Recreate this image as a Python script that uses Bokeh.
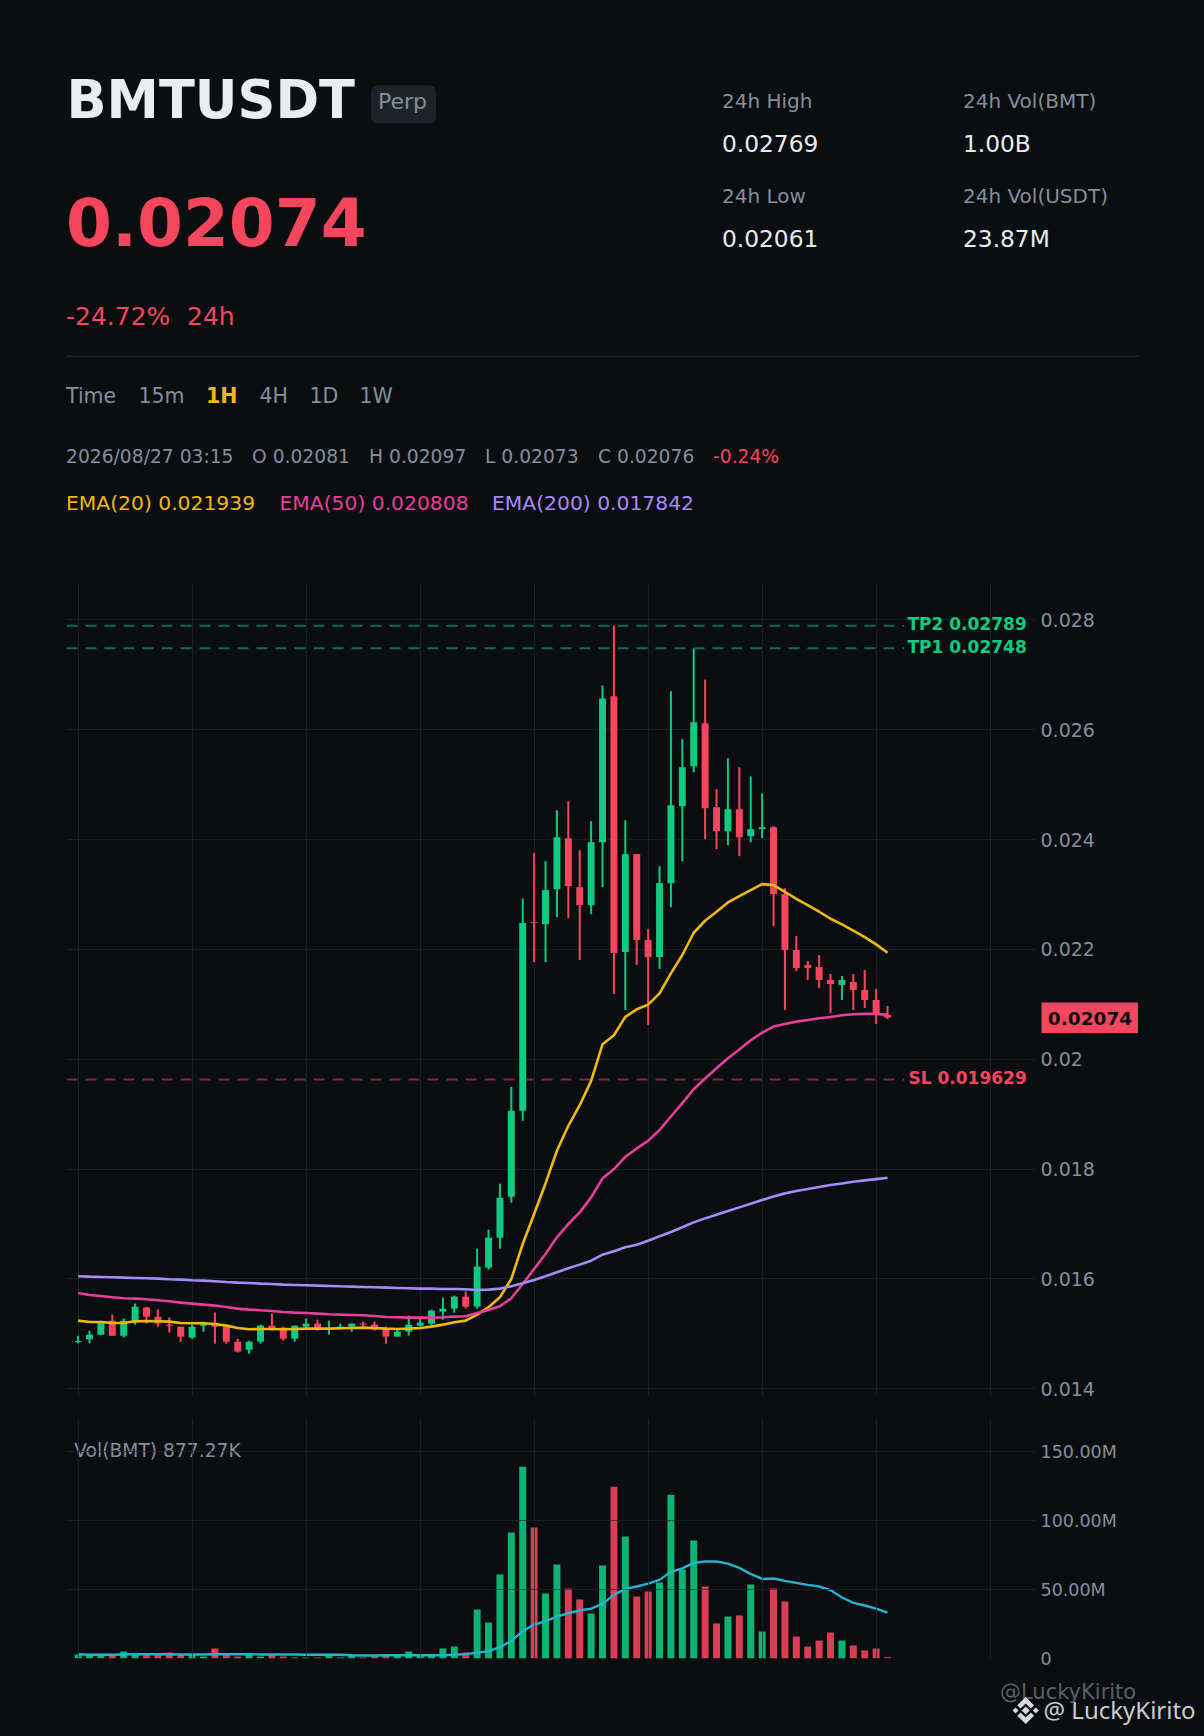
from bokeh.plotting import figure
from bokeh.layouts import column
from bokeh.models import FixedTicker, Range1d, LinearAxis, Grid
from bokeh.core.properties import value
from bokeh.embed import file_html
from bokeh.resources import INLINE

BG = "#0B0E11"
GRID = "#1A1E27"
MUTED = "#848E9C"
LIGHT = "#EAECEF"
UP = "#0ECB81"
DOWN = "#F6465D"
GOLD = "#F0B90B"
PINK = "#E83E9C"
VIOLET = "#A78BFA"
CYAN = "#22B4D0"

# ---- chart values ----
opens = [.014853,.014901,.014986,.015241,.014968,.015205,.015478,.015314,.015168,.015132,.014932,.015150,
         .015168,.015132,.014859,.014713,.014859,.015150,.015114,.014913,.015132,.015187,.015090,.015096,
         .015132,.015187,.015168,.015096,.014950,.015041,.015150,.015187,.015405,.015460,.015678,.015496,
         .016206,.016751,.017497,.019060,.022497,.022461,.023097,.024024,.023133,.022806,.023952,.026606,
         .021952,.023733,.022170,.021861,.023206,.024606,.025333,.026115,.024588,.024152,.024551,.024061,
         .024188,.024224,.023006,.021988,.021715,.021679,.021443,.021352,.021406,.021261,.021079,.02081]
highs = [.014968,.015059,.015241,.015350,.015278,.015551,.015496,.015442,.015296,.015132,.015168,.015223,
         .015387,.015150,.014913,.014877,.015168,.015369,.015132,.015150,.015278,.015259,.015241,.015187,
         .015187,.015223,.015223,.015132,.015096,.015332,.015278,.015442,.015660,.015696,.015775,.016552,
         .016897,.017733,.019497,.022927,.023752,.023606,.024533,.024697,.023806,.024333,.026806,.027897,
         .024351,.023733,.022370,.023515,.026697,.025824,.027472,.026915,.024915,.025479,.025315,.025151,
         .024842,.024242,.023115,.022243,.021788,.021897,.021552,.021515,.021552,.021624,.021279,.02097]
lows = [.014828,.014828,.014986,.014968,.014932,.015168,.015187,.015132,.015023,.014859,.014913,.015041,
        .014822,.014822,.014659,.014640,.014822,.015060,.014877,.014859,.015096,.015059,.014986,.015077,
        .015041,.015132,.015059,.014822,.014950,.014968,.015132,.015150,.015259,.015387,.015460,.015460,
        .016170,.016551,.017388,.018879,.021770,.021770,.022588,.022570,.021806,.022643,.023133,.021188,
        .020897,.021715,.020625,.021643,.022770,.023606,.025224,.024006,.023824,.023897,.023697,.023952,
        .024024,.022424,.020897,.021606,.021443,.021297,.020843,.021079,.020897,.020934,.020643,.02073]
closes = [.014871,.014986,.015229,.014968,.015241,.015496,.015314,.015187,.015150,.014950,.015132,.015187,
          .015132,.014859,.014677,.014859,.015150,.015077,.014913,.015150,.015187,.015096,.015096,.015132,
          .015187,.015168,.015077,.014950,.015041,.015168,.015205,.015423,.015460,.015678,.015496,.016225,
          .016751,.017479,.019060,.022479,.022479,.023079,.024042,.023152,.022806,.023952,.026569,.021934,
          .023733,.022170,.021861,.023206,.024624,.025315,.026133,.024570,.024152,.024551,.024042,.024188,
          .024224,.023006,.021988,.021661,.021661,.021443,.021370,.021443,.021261,.021079,.020824,.02076]
ema20 = [.015241,.015217,.015217,.015199,.015199,.015229,.015235,.015229,.015223,.015199,.015193,.015193,
         .015181,.015150,.015108,.015083,.015090,.015090,.015083,.015090,.015096,.015096,.015096,.015102,
         .015108,.015114,.015108,.015096,.015090,.015096,.015108,.015132,.015168,.015211,.015241,.015350,
         .015485,.015667,.016000,.016636,.017182,.017739,.018333,.018788,.019163,.019606,.020272,.020436,
         .020770,.020909,.020994,.021200,.021564,.021897,.022303,.022521,.022685,.022855,.022970,.023079,
         .023188,.023170,.023049,.022921,.022806,.022685,.022558,.022455,.022340,.022224,.022091,.021939]
ema50 = [.015745,.015709,.015690,.015666,.015648,.015642,.015630,.015612,.015593,.015569,.015551,.015533,
         .015514,.015490,.015460,.015442,.015429,.015417,.015399,.015387,.015381,.015369,.015357,.015350,
         .015344,.015338,.015326,.015308,.015302,.015296,.015296,.015296,.015302,.015314,.015320,.015382,
         .015436,.015503,.015649,.015909,.016182,.016455,.016758,.017000,.017212,.017485,.017830,.018000,
         .018224,.018376,.018515,.018709,.018957,.019200,.019454,.019648,.019836,.020018,.020176,.020345,
         .020485,.020594,.020643,.020685,.020715,.020746,.020770,.020800,.020818,.020825,.020825,.020808]
ema200 = [.016049,.016042,.016036,.016030,.016024,.016018,.016012,.016006,.015994,.015988,.015976,.015970,
          .015958,.015945,.015933,.015927,.015915,.015909,.015897,.015891,.015885,.015879,.015873,.015866,
          .015860,.015854,.015848,.015842,.015836,.015830,.015824,.015824,.015818,.015818,.015812,.015800,
          .015806,.015824,.015867,.015921,.015982,.016048,.016121,.016194,.016261,.016333,.016442,.016503,
          .016576,.016624,.016697,.016776,.016855,.016940,.017030,.017103,.017170,.017236,.017303,.017370,
          .017436,.017503,.017558,.017600,.017636,.017673,.017709,.017739,.017770,.017794,.017818,.017842]
volumes = [2.9,2.6,2.6,1.9,5.1,3.6,2.6,2.6,4.3,3.1,3.1,1.4,7.2,2.6,1.4,2.6,1.4,2.6,1.4,.7,.7,.7,2.6,.7,
           2.6,.7,1.9,1.9,2.6,5.1,1.9,2.6,7.2,8.7,4.3,35.5,26.1,60.9,91.3,139.1,94.9,47.1,68.1,50.7,42.7,
           32.6,67.4,124.6,88.4,44.9,48.5,55.1,118.8,64.5,85.5,52.2,25.4,30.4,31.2,53.6,19.6,50.7,41.3,
           15.9,8.7,13.0,18.8,13.0,9.4,5.8,7.2,.88]
vol_ma = [3.1,2.7,2.7,2.7,2.9,3.1,3.1,3.1,3.1,2.9,2.9,2.9,3.1,3.1,3.1,3.1,2.9,2.9,2.9,2.9,2.7,2.7,2.7,2.7,
          2.4,2.2,2.2,2.4,2.4,2.4,2.4,2.4,2.4,2.7,3.2,4.3,5.3,8.2,12.8,19.8,24.6,27.0,30.4,32.8,34.8,36.2,
          39.6,46.1,50.5,52.2,54.3,57.0,62.8,65.4,69.3,70.3,70.3,68.8,65.7,61.3,57.7,58.0,56.3,54.8,53.4,
          52.2,49.6,44.2,40.3,38.4,36.2,33.3]
price_ticks = [.014,.016,.018,.02,.022,.024,.026,.028]
price_tick_labels = ["0.014","0.016","0.018","0.02","0.022","0.024","0.026","0.028"]
vol_ticks = [0,50,100,150]
vol_tick_labels = ["0","50.00M","100.00M","150.00M"]
time_ticks = [0,10,20,30,40,50,60,70,80]
tp2, tp1, sl, last_price = .02789, .02748, .019629, .02074

FONT = "DejaVu Sans"
W = 1204
BASE = 0.37   # Bokeh's alphabetic text sits this many em below the given y

def put(p, x, y, txt, size, color, bold=False, align="left", alpha=1.0, font=FONT, baseline="alphabetic"):
    p.text(x=[x], y=[y], text=[txt], text_font=value(font), text_font_size=value(f"{size}px"),
           text_color=color, text_alpha=alpha, text_align=align, text_baseline=baseline,
           text_font_style="bold" if bold else "normal")

def blank(h, w=W, bg=BG, **kw):
    f = figure(width=w, height=h, x_range=Range1d(0, w), y_range=Range1d(h, 0), output_backend="svg",
               toolbar_location=None, x_axis_type=None, y_axis_type=None,
               min_border=0, background_fill_color=bg, border_fill_color=bg, outline_line_color=None, **kw)
    f.grid.visible = False
    f.frame_align = False
    return f

# ---- header: positions below are page pixels ----
H = blank(582)
def hp(x, y, txt, size, color, **k):
    put(H, x, y - BASE * size, txt, size, color, **k)

hp(66, 118.3, "BMTUSDT", 52.6, LIGHT, bold=True)
H.quad(left=[370.5], right=[435.5], top=[85], bottom=[122.7], fill_color="#1E2329", line_color=None, border_radius=6)
hp(377.5, 109, "Perp", 22, MUTED)
hp(65.5, 245, "0.02074", 66, DOWN, bold=True)
hp(65.5, 325, "-24.72%", 25, DOWN)
hp(186.5, 325, "24h", 25, DOWN)
for x, a, av, b, bv in [(721.5, "24h High", "0.02769", "24h Low", "0.02061"),
                        (962.5, "24h Vol(BMT)", "1.00B", "24h Vol(USDT)", "23.87M")]:
    hp(x, 107.5, a, 20, MUTED)
    hp(x, 151.5, av, 23.3, LIGHT)
    hp(x, 203, b, 20, MUTED)
    hp(x, 247, bv, 23.3, LIGHT)
H.line(x=[65.5, 1138.5], y=[355.7, 355.7], line_color="#1E2329", line_width=1.5)
for x, t, c, b in [(65.5, "Time", MUTED, False), (138, "15m", MUTED, False), (205.5, "1H", GOLD, True),
                   (259, "4H", MUTED, False), (309, "1D", MUTED, False), (359, "1W", MUTED, False)]:
    hp(x, 403, t, 20.5, c, bold=b)
for x, t, c in [(65.5, "2026/08/27 03:15", MUTED), (251.5, "O 0.02081", MUTED), (368.5, "H 0.02097", MUTED),
                (484.5, "L 0.02073", MUTED), (597.5, "C 0.02076", MUTED), (712.5, "-0.24%", DOWN)]:
    hp(x, 462.5, t, 18.7, c)
for x, t, c in [(65.5, "EMA(20) 0.021939", GOLD), (279, "EMA(50) 0.020808", PINK), (491.5, "EMA(200) 0.017842", VIOLET)]:
    hp(x, 510, t, 20.3, c)

# ---- price panel ----
xs = [i - .06 for i in range(len(closes))]
colors = [UP if c >= o else DOWN for o, c in zip(opens, closes)]
XR = Range1d(-1.079, 83.92)
P = figure(width=W, height=814, x_range=XR, y_range=Range1d(.01386, .028679), output_backend="svg",
           toolbar_location=None, x_axis_type=None, y_axis_type=None, background_fill_color=BG, border_fill_color=BG,
           outline_line_color=None, min_border_left=66, min_border_right=169, min_border_top=0, min_border_bottom=0)
P.frame_align = False

def style_axis(ax, ticks, labels, size):
    ax.ticker = FixedTicker(ticks=ticks)
    ax.major_label_overrides = {t: l for t, l in zip(ticks, labels)}
    ax.major_label_text_color = MUTED
    ax.major_label_text_font = FONT
    ax.major_label_text_font_size = size
    ax.major_label_standoff = 5
    ax.major_tick_in = 0
    ax.major_tick_out = 0
    ax.minor_tick_in = 0
    ax.minor_tick_out = 0
    ax.axis_line_color = None
    ax.major_tick_line_color = None
    ax.minor_tick_line_color = None

def add_grid(f, ticks, level="underlay", alpha=1.0, color=GRID):
    f.add_layout(Grid(dimension=0, ticker=FixedTicker(ticks=time_ticks), grid_line_color=color,
                      grid_line_alpha=alpha, level=level))
    f.add_layout(Grid(dimension=1, ticker=FixedTicker(ticks=ticks), grid_line_color=color,
                      grid_line_alpha=alpha, level=level))

ax = LinearAxis()
style_axis(ax, price_ticks, price_tick_labels, "19px")
P.add_layout(ax, "right")
add_grid(P, price_ticks)

dash_end = 72.4
for lvl, col in [(tp2, UP), (tp1, UP), (sl, DOWN)]:
    P.line(x=[-1.079, dash_end], y=[lvl, lvl], line_color=col, line_alpha=.5, line_width=2, line_dash="11 8")

P.segment(x0=xs, x1=xs, y0=lows, y1=highs, line_color=colors, line_width=2)
P.vbar(x=xs, width=.61, top=[max(o, c) for o, c in zip(opens, closes)],
       bottom=[min(o, c) for o, c in zip(opens, closes)], fill_color=colors, line_color=None)
P.line(xs, ema20, line_color=GOLD, line_width=2.6)
P.line(xs, ema50, line_color=PINK, line_width=2.6)
P.line(xs, ema200, line_color=VIOLET, line_width=2.6)

LIFT = .00003
put(P, 83.15, tp2 + LIFT, "TP2 0.02789", 17, UP, bold=True, align="right", baseline="middle")
put(P, 83.15, tp1 + LIFT, "TP1 0.02748", 17, UP, bold=True, align="right", baseline="middle")
put(P, 83.15, sl + LIFT, "SL 0.019629", 17, DOWN, bold=True, align="right", baseline="middle")

# last-price tag: a small figure laid over the axis gutter
T = blank(31, w=97, bg=DOWN, styles={"position": "absolute", "left": "1041px", "top": "1002px"})
put(T, 48.5, 15.5, f"{last_price:.5f}", 18.5, "#0B0E11", bold=True, align="center", baseline="middle")

# ---- volume panel ----
V = figure(width=W, height=272, x_range=XR, y_range=Range1d(0, 174), output_backend="svg",
           toolbar_location=None, x_axis_type=None, y_axis_type=None, background_fill_color=BG, border_fill_color=BG,
           outline_line_color=None, min_border_left=66, min_border_right=169, min_border_top=22, min_border_bottom=10)
V.frame_align = False
ax2 = LinearAxis()
style_axis(ax2, vol_ticks, vol_tick_labels, "17.5px")
V.add_layout(ax2, "right")
add_grid(V, vol_ticks[1:], level="overlay", alpha=.7, color="#20242E")
V.vbar(x=xs, width=.61, top=volumes, bottom=0, fill_color=colors, fill_alpha=.88, line_color=None)
V.line(xs, vol_ma, line_color=CYAN, line_width=2.4)
put(V, -0.4, 151.0, "Vol(BMT) 877.27K", 18.7, MUTED)

# ---- footer ----
F = blank(68)
def fp(x, y, txt, size, color, **k):
    put(F, x, y - 1668 - BASE * size, txt, size, color, **k)
fp(999.5, 1699, "@LuckyKirito", 21, "#5A5F67")
fp(1043, 1717.7, "@ LuckyKirito", 24, "#C9CCD1", font="Noto Sans")
cx, cy, r = 1025.2, 42, 13.5
logo = [
    [(0, -.3), (.3, 0), (0, .3), (-.3, 0)],
    [(-.75, -.22), (-.53, 0), (-.75, .22), (-.97, 0)],
    [(.75, -.22), (.97, 0), (.75, .22), (.53, 0)],
    [(0, -1), (.62, -.38), (.38, -.14), (0, -.52), (-.38, -.14), (-.62, -.38)],
    [(0, 1), (.62, .38), (.38, .14), (0, .52), (-.38, .14), (-.62, .38)],
]
F.patches([[cx + a * r for a, b in s] for s in logo], [[cy + b * r for a, b in s] for s in logo],
          fill_color="#D9D9D9", line_color=None)

page = column(H, P, V, F, T, spacing=0)
html = file_html(page, INLINE)
html = html.replace("<head>", "<head><style>html,body{background:#0B0E11;overflow:hidden}</style>", 1)
open("out.html", "w").write(html)
